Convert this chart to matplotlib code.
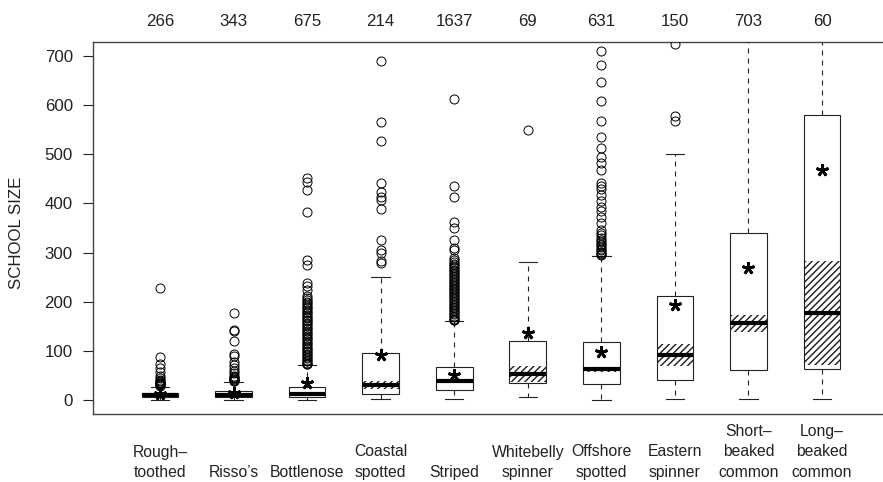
import matplotlib
matplotlib.use("Agg")
import matplotlib.pyplot as plt
from matplotlib.transforms import blended_transform_factory

plt.rcParams["font.family"] = ["Liberation Sans", "DejaVu Sans"]
plt.rcParams["hatch.linewidth"] = 1.0

# School size summaries by dolphin stock
species = ["Rough–\ntoothed", "Risso’s", "Bottlenose", "Coastal\nspotted", "Striped",
           "Whitebelly\nspinner", "Offshore\nspotted", "Eastern\nspinner",
           "Short–\nbeaked\ncommon", "Long–\nbeaked\ncommon"]
n_schools = [266, 343, 675, 214, 1637, 69, 631, 150, 703, 60]
whisker_low = [1, 1, 1, 2, 2, 7, 1, 2, 2, 3]
q1 = [6, 7, 7, 12, 20, 36, 32, 42, 61, 63]
median = [10, 11, 13, 31, 39, 53, 63, 92, 156, 178]
q3 = [14, 18, 27, 95, 68, 121, 118, 212, 340, 580]
whisker_high = [27, 37, 71, 251, 161, 281, 293, 500, 750, 1000]
mean_size = [12, 14, 35, 91, 52, 136, 98, 193, 269, 468]

out_rough = [228, 88, 73, 66, 58, 50, 45, 42, 40, 38, 36, 35, 33, 32, 30, 29]
out_risso = [178, 143, 141, 121, 93, 90, 78, 72, 65, 60, 55, 50, 47, 45, 43, 41, 40, 39]
out_bottlenose = [451, 444, 427, 382, 285, 275, 238, 232, 224, 212, 208, 204, 200, 197,
                  194, 190, 187, 184, 180, 177, 174, 170, 167, 164, 160, 157, 154, 150,
                  147, 144, 140, 137, 134, 130, 127, 124, 120, 117, 114, 110, 107, 104,
                  100, 97, 94, 91, 88, 85, 82, 79, 76, 74, 73]
out_coastal = [690, 566, 527, 441, 423, 414, 407, 389, 326, 305, 300, 282, 278]
out_striped = [612, 436, 414, 363, 351, 326, 309, 305, 290, 285, 280, 277, 274, 271,
               268, 265, 262, 259, 256, 253, 250, 247, 244, 241, 238, 235, 232, 229,
               226, 223, 220, 217, 214, 211, 208, 205, 202, 199, 196, 193, 190, 187,
               184, 181, 178, 175, 172, 169, 166, 164, 163]
out_whitebelly = [550]
out_offshore = [709, 682, 646, 609, 568, 535, 513, 495, 482, 467, 442, 436, 429, 417,
                404, 393, 385, 372, 360, 346, 339, 335, 329, 325, 322, 318, 315, 312,
                308, 305, 302, 300, 298, 296]
out_eastern = [724, 577, 567]
out_short = []
out_long = []
outliers = [out_rough, out_risso, out_bottlenose, out_coastal, out_striped,
            out_whitebelly, out_offshore, out_eastern, out_short, out_long]

positions = list(range(1, len(species) + 1))
box_w = 0.5
line_c = "#222222"

stats = []
for i in range(len(species)):
    stats.append(dict(med=median[i], q1=q1[i], q3=q3[i], whislo=whisker_low[i],
                      whishi=whisker_high[i], fliers=outliers[i], mean=mean_size[i]))

fig = plt.figure(figsize=(8.83, 4.82), dpi=100)
ax = fig.add_axes([93 / 883, 68 / 482, 796 / 883, 372 / 482])

ax.bxp(stats, positions=positions, widths=box_w, patch_artist=True,
       showmeans=True, showfliers=True,
       boxprops=dict(facecolor="white", edgecolor=line_c, linewidth=0.8, zorder=1.5),
       whiskerprops=dict(color=line_c, linewidth=0.8, linestyle=(0, (4.5, 4.5)), zorder=1.4),
       capprops=dict(color=line_c, linewidth=0.8, zorder=1.4),
       medianprops=dict(color="black", linewidth=3.0, solid_capstyle="butt", zorder=3),
       meanprops=dict(marker=(5, 2, 0), markersize=9, markeredgewidth=2.0,
                      markeredgecolor="black", markerfacecolor="black", zorder=4),
       flierprops=dict(marker="o", markersize=6.5, markerfacecolor="none",
                       markeredgecolor="black", markeredgewidth=0.7, zorder=3),
       capwidths=box_w / 2)

# Hatched band: approximate 95% interval for the median
ci_lo = [median[i] - 1.58 * (q3[i] - q1[i]) / n_schools[i] ** 0.5 for i in range(len(species))]
ci_hi = [median[i] + 1.58 * (q3[i] - q1[i]) / n_schools[i] ** 0.5 for i in range(len(species))]
ax.bar(positions, [h - l for l, h in zip(ci_lo, ci_hi)], bottom=ci_lo, width=box_w,
       fill=False, hatch="/////", edgecolor="#1a1a1a", linewidth=0, zorder=2)

ax.set_xlim(0.09, 10.91)
ax.set_ylim(-28, 728)
ax.set_yticks(range(0, 701, 100))
ax.set_xticks([])
ax.tick_params(axis="y", length=7, width=0.8, color=line_c, pad=7.5,
               labelsize=12.2, labelcolor=line_c)
for s in ax.spines.values():
    s.set_color("#444444")
    s.set_linewidth(1.0)

fig.text(17 / 883, 1 - 233 / 482, "SCHOOL SIZE", rotation=90, ha="center", va="center",
         fontsize=12.2, color=line_c)

tr = blended_transform_factory(ax.transData, fig.transFigure)
for p, n in zip(positions, n_schools):
    ax.text(p, 1 - 26 / 482, str(n), transform=tr, ha="center", va="baseline",
            fontsize=12.2, color=line_c, clip_on=False)

for p, lab in zip(positions, species):
    lines = lab.split("\n")
    for k, txt in enumerate(reversed(lines)):
        y_px = 477 - 20.5 * k
        ax.text(p, 1 - y_px / 482, txt, transform=tr, ha="center", va="baseline",
                fontsize=11.3, color=line_c, clip_on=False)

fig.savefig("out.png", dpi=100)
